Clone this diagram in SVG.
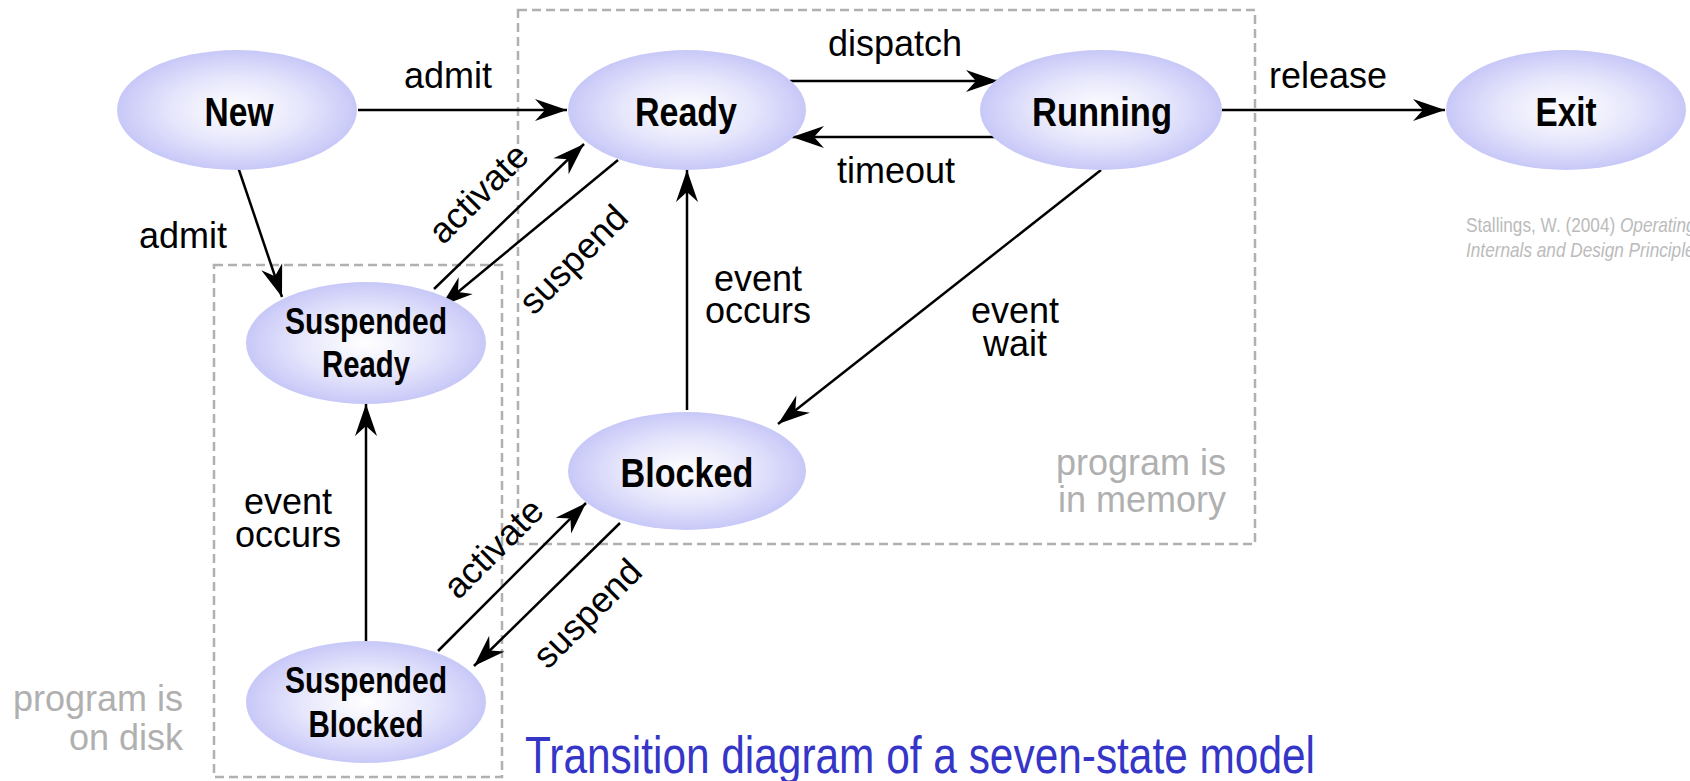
<svg xmlns="http://www.w3.org/2000/svg" width="1690" height="781" viewBox="0 0 1690 781">
  <defs>
    <radialGradient id="stateFill" cx="50%" cy="50%" r="50%">
      <stop offset="0" stop-color="#ffffff"/>
      <stop offset="0.55" stop-color="#e6e6fc"/>
      <stop offset="1" stop-color="#c8c8f8"/>
    </radialGradient>
    <marker id="arrow" markerUnits="userSpaceOnUse" markerWidth="34" markerHeight="24" refX="32" refY="11" orient="auto" overflow="visible">
      <path d="M0,0 L32,11 L0,22 L10,11 Z" fill="#000"/>
    </marker>
    <style>
      .state { fill: url(#stateFill); }
      .name { font-family: "Liberation Sans", Arial, sans-serif; font-weight: bold; font-size: 41px; text-anchor: middle; fill: #000; }
      .name2 { font-family: "Liberation Sans", Arial, sans-serif; font-weight: bold; font-size: 37px; text-anchor: middle; fill: #000; }
      .edge { stroke: #000; stroke-width: 2.5; fill: none; marker-end: url(#arrow); }
      .lbl { font-family: "Liberation Sans", Arial, sans-serif; font-size: 36px; text-anchor: middle; fill: #000; }
      .zone { fill: none; stroke: #b0b0b0; stroke-width: 2.5; stroke-dasharray: 9 5; }
      .note { font-family: "Liberation Sans", Arial, sans-serif; font-size: 36px; text-anchor: end; fill: #b0b0b0; }
      .cite { font-family: "Liberation Sans", Arial, sans-serif; font-size: 21px; fill: #bbbbbb; }
      .title { font-family: "Liberation Sans", Arial, sans-serif; font-size: 52px; fill: #3535c8; }
    </style>
  </defs>

  <rect width="1690" height="781" fill="#fff"/>

  <!-- memory / disk zones -->
  <g id="zones">
    <rect class="zone" x="518" y="10" width="737" height="534"/>
    <rect class="zone" x="214" y="265" width="288" height="512"/>
    <text class="note" x="1226" y="475">program is<tspan x="1226" dy="37">in memory</tspan></text>
    <text class="note" x="183" y="711">program is<tspan x="183" dy="39">on disk</tspan></text>
  </g>

  <!-- transitions -->
  <g id="connectors">
    <line class="edge" x1="358" y1="110" x2="567" y2="110"/>
    <line class="edge" x1="790" y1="81" x2="998" y2="81"/>
    <line class="edge" x1="996" y1="137" x2="792" y2="137"/>
    <line class="edge" x1="1222" y1="110" x2="1445" y2="110"/>
    <line class="edge" x1="238" y1="167" x2="282" y2="297"/>
    <line class="edge" x1="434" y1="289" x2="584" y2="144"/>
    <line class="edge" x1="618" y1="160" x2="441" y2="306"/>
    <line class="edge" x1="687" y1="410" x2="687" y2="170"/>
    <line class="edge" x1="1101" y1="170" x2="778" y2="424"/>
    <line class="edge" x1="366" y1="641" x2="366" y2="404"/>
    <line class="edge" x1="438" y1="651" x2="586" y2="503"/>
    <line class="edge" x1="620" y1="523" x2="474" y2="666"/>

    <text class="lbl" x="448" y="88">admit</text>
    <text class="lbl" x="183" y="248">admit</text>
    <text class="lbl" x="895" y="56">dispatch</text>
    <text class="lbl" x="896" y="183">timeout</text>
    <text class="lbl" x="1328" y="88">release</text>
    <text class="lbl" x="758" y="291">event<tspan x="758" dy="32">occurs</tspan></text>
    <text class="lbl" x="1015" y="323">event<tspan x="1015" dy="33">wait</tspan></text>
    <text class="lbl" x="288" y="514">event<tspan x="288" dy="33">occurs</tspan></text>
    <text class="lbl" x="487" y="202" transform="rotate(-45 487 202)">activate</text>
    <text class="lbl" x="582" y="268" transform="rotate(-45 582 268)">suspend</text>
    <text class="lbl" x="502" y="557" transform="rotate(-45 502 557)">activate</text>
    <text class="lbl" x="596" y="622" transform="rotate(-45 596 622)">suspend</text>
  </g>

  <!-- states -->
  <g id="new">
    <ellipse class="state" cx="237" cy="110" rx="120" ry="60"/>
    <text class="name" x="239" y="126" textLength="69" lengthAdjust="spacingAndGlyphs">New</text>
  </g>
  <g id="ready">
    <ellipse class="state" cx="687" cy="110" rx="119" ry="60"/>
    <text class="name" x="686" y="126" textLength="102" lengthAdjust="spacingAndGlyphs">Ready</text>
  </g>
  <g id="running">
    <ellipse class="state" cx="1101" cy="110" rx="121" ry="60"/>
    <text class="name" x="1102" y="126" textLength="140" lengthAdjust="spacingAndGlyphs">Running</text>
  </g>
  <g id="exit">
    <ellipse class="state" cx="1566" cy="110" rx="120" ry="60"/>
    <text class="name" x="1566" y="126" textLength="61" lengthAdjust="spacingAndGlyphs">Exit</text>
  </g>
  <g id="blocked">
    <ellipse class="state" cx="687" cy="471" rx="119" ry="59"/>
    <text class="name" x="687" y="487" textLength="133" lengthAdjust="spacingAndGlyphs">Blocked</text>
  </g>
  <g id="suspended-ready">
    <ellipse class="state" cx="366" cy="343" rx="120" ry="61"/>
    <text class="name2" x="366" y="334" textLength="162" lengthAdjust="spacingAndGlyphs">Suspended</text>
    <text class="name2" x="366" y="377" textLength="88" lengthAdjust="spacingAndGlyphs">Ready</text>
  </g>
  <g id="suspended-blocked">
    <ellipse class="state" cx="366" cy="702" rx="120" ry="61"/>
    <text class="name2" x="366" y="693" textLength="162" lengthAdjust="spacingAndGlyphs">Suspended</text>
    <text class="name2" x="366" y="737" textLength="115" lengthAdjust="spacingAndGlyphs">Blocked</text>
  </g>

  <!-- caption and source -->
  <g id="caption">
    <text class="title" x="525" y="773" textLength="790" lengthAdjust="spacingAndGlyphs">Transition diagram of a seven-state model</text>
    <g transform="translate(1466 0) scale(0.82 1)">
      <text class="cite" x="0" y="232">Stallings, W. (2004) <tspan font-style="italic">Operating Systems:</tspan><tspan x="0" dy="25" font-style="italic">Internals and Design Principles</tspan></text>
    </g>
  </g>
</svg>
